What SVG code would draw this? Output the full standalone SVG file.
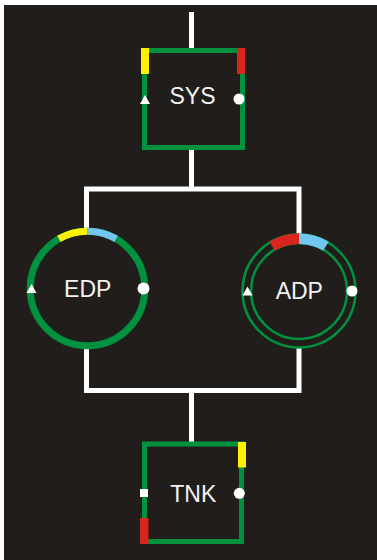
<svg xmlns="http://www.w3.org/2000/svg" width="377" height="560" viewBox="0 0 377 560">
<style>
.wire{fill:none;stroke:#ffffff;stroke-width:5;stroke-linejoin:miter}
.box{fill:none;stroke:#00923f;stroke-width:5}
.ring{fill:none;stroke:#00923f;stroke-width:7}
.thin{fill:none;stroke:#00923f;stroke-width:2.5}
.lbl{font-family:"Liberation Sans",Arial,sans-serif;font-size:23px;fill:#f2f2f2;text-anchor:middle}
.mark{fill:#ffffff}
.yel{fill:#fff200}
.red{fill:#d9251d}
</style>
<rect x="0" y="0" width="377" height="560" fill="#ffffff"/>
<rect x="4" y="5" width="373" height="555" fill="#211d1a"/>
<g id="connectors">
<path class="wire" d="M191.5,12 V49"/>
<path class="wire" d="M191.5,149 V189"/>
<path class="wire" d="M86.5,232 V189 H299 V235"/>
<path class="wire" d="M86.5,345 V390.5 H299 V347"/>
<path class="wire" d="M191.5,390.5 V443"/>
</g>
<g id="SYS">
<rect class="box" x="144.5" y="50.5" width="98" height="97"/>
<rect class="yel" x="141" y="48" width="8" height="26"/>
<rect class="red" x="237" y="48" width="8" height="26"/>
<polygon class="mark" points="145,95 140,104 150,104"/>
<circle class="mark" cx="239" cy="99" r="5.5"/>
<text class="lbl" x="192.5" y="104">SYS</text>
</g>
<g id="EDP">
<circle class="ring" cx="87.5" cy="288.5" r="57.3"/>
<path d="M58.85,238.9 A57.3,57.3 0 0 1 87.5,231.2" fill="none" stroke="#fff200" stroke-width="7"/>
<path d="M87.5,231.2 A57.3,57.3 0 0 1 116.15,238.9" fill="none" stroke="#72c6ef" stroke-width="7"/>
<polygon class="mark" points="31.5,284 26.5,293 36.5,293"/>
<circle class="mark" cx="143.5" cy="288.5" r="6"/>
<text class="lbl" x="87.7" y="296.7">EDP</text>
</g>
<g id="ADP">
<circle class="thin" cx="299" cy="291" r="56.5"/>
<circle class="thin" cx="299" cy="291" r="48"/>
<path d="M272.1,246.2 A52.25,52.25 0 0 1 299,238.75" fill="none" stroke="#d9251d" stroke-width="10.5"/>
<path d="M299,238.75 A52.25,52.25 0 0 1 325.9,246.2" fill="none" stroke="#72c6ef" stroke-width="10.5"/>
<polygon class="mark" points="247.5,286.5 242.5,295.5 252.5,295.5"/>
<circle class="mark" cx="352" cy="291" r="5.5"/>
<text class="lbl" x="299.3" y="299.3">ADP</text>
</g>
<g id="TNK">
<rect class="box" x="144.5" y="444" width="97" height="97.5"/>
<rect class="yel" x="238" y="442" width="8" height="25.5"/>
<rect class="red" x="140" y="518" width="8.5" height="26"/>
<rect class="mark" x="140" y="489" width="8" height="8"/>
<circle class="mark" cx="239.3" cy="493.3" r="5.5"/>
<text class="lbl" x="193.3" y="502.3">TNK</text>
</g>
</svg>
